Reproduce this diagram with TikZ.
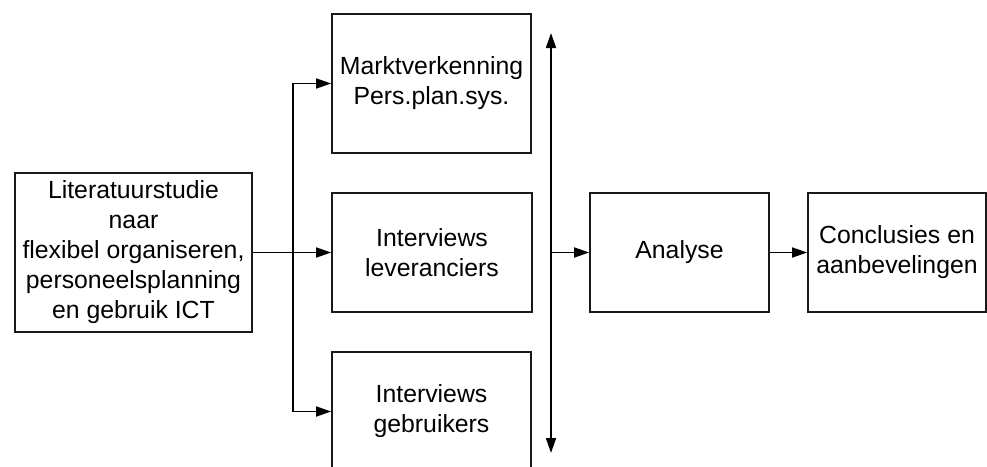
\documentclass[tikz,border=0pt]{standalone}
\usepackage{fontspec}
\setmainfont{Liberation Sans}
\usetikzlibrary{arrows.meta}
\begin{document}
\begin{tikzpicture}[x=1pt,y=-1pt,
  box/.style={draw=black!90, line width=1.7pt, fill=white, align=center, inner sep=0pt,
    font=\fontsize{24.8}{30}\selectfont},
  tip/.tip={Triangle[length=15pt,width=10pt]},
  link/.style={line width=1.7pt, -tip},
  bus/.style={line width=1.7pt}]
  \useasboundingbox (0,0) rectangle (987,466);
  \clip (0,0) rectangle (987,466);

  % process boxes
  \node[box, minimum width=237pt, minimum height=159pt] (lit) at (133.5,252.5)
    {Literatuurstudie\\naar\\flexibel organiseren,\\personeelsplanning\\en gebruik ICT};
  \node[box, minimum width=199pt, minimum height=139pt] (markt) at (431.5,83.5)
    {Marktverkenning\\Pers.plan.sys.};
  \node[box, minimum width=200pt, minimum height=119pt] (lev) at (432,252.5)
    {Interviews\\leveranciers};
  \node[box, minimum width=199pt, minimum height=119pt] (gebr) at (431.5,411.5)
    {Interviews\\gebruikers};
  \node[box, minimum width=179pt, minimum height=119pt] (ana) at (679.5,252.5)
    {Analyse};
  \node[box, minimum width=178pt, minimum height=119pt] (concl) at (897,252.5)
    {Conclusies en\\aanbevelingen};

  % fan-out from the literature study
  \coordinate (split) at (293,252.5);
  \draw[bus] (lit.east) -- (split);
  \draw[link] (split) |- (markt.west);
  \draw[link] (split) -- (lev.west);
  \draw[link] (split) |- (gebr.west);

  % collecting bus with arrows at both ends
  \coordinate (bustop) at (551,33);
  \coordinate (busbot) at (551,453);
  \coordinate (busmid) at (551,252.5);
  \draw[bus, tip-tip] (busbot) -- (bustop);
  \draw[link] (busmid) -- (ana.west);
  \draw[link] (ana.east) -- (concl.west);
\end{tikzpicture}
\end{document}
